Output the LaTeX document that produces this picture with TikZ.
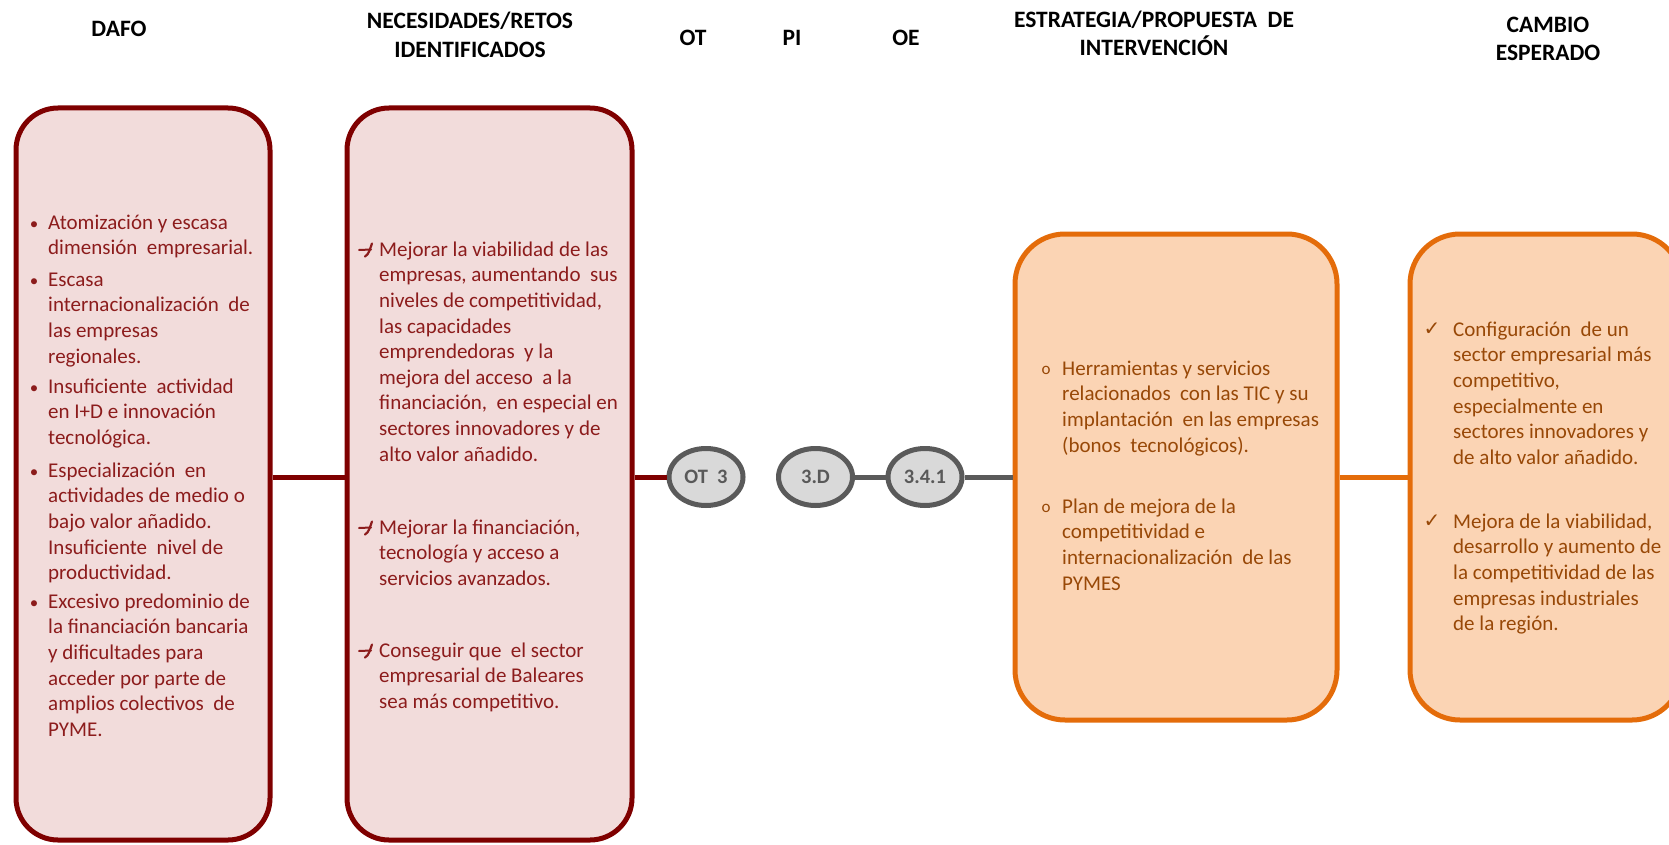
\documentclass[tikz,border=0pt]{standalone}
\usepackage{fontspec}
\setmainfont{Carlito}
\newfontfamily\dejavu{DejaVu Sans}
\usetikzlibrary{shapes.geometric}
\definecolor{dred}{HTML}{7F0000}
\definecolor{pinkfill}{HTML}{F2DCDB}
\definecolor{redtext}{HTML}{8C1C1C}
\definecolor{orline}{HTML}{E46C0A}
\definecolor{orfill}{HTML}{FBD4B4}
\definecolor{ortext}{HTML}{984807}
\definecolor{grline}{HTML}{5A5A5A}
\definecolor{grfill}{HTML}{D9D9D9}
\definecolor{grtext}{HTML}{595959}
\newcommand{\topstrutx}{\rule{0pt}{20pt}}
\begin{document}
\begin{tikzpicture}[x=1pt,y=-1pt,
  hdr/.style={font=\fontsize{23.5}{28.5}\selectfont\bfseries, align=center, inner sep=0},
  redbox/.style={draw=dred, fill=pinkfill, line width=5pt, rounded corners=42pt, minimum width=#1, minimum height=732pt, inner sep=0},
  orbox/.style={draw=orline, fill=orfill, line width=5pt, rounded corners=50pt, minimum width=#1, minimum height=486pt, inner sep=0},
  oval/.style={ellipse, draw=grline, fill=grfill, line width=5pt, minimum width=74pt, minimum height=57pt, inner sep=0, text=grtext, font=\fontsize{20.5}{24}\selectfont\bfseries},
  body/.style={font=\fontsize{21}{25.6}\selectfont, align=left, inner sep=0, anchor=north west},
  redtxt/.style={body, text=redtext},
  ortxt/.style={body, text=ortext},
  bulletmark/.style={inner sep=0, anchor=center},
  redbullet/.style={bulletmark, text=redtext, font=\fontsize{17}{20}\selectfont},
  orbullet/.style={bulletmark, text=ortext, font=\fontsize{17}{20}\selectfont},
  checkmk/.style={bulletmark, text=ortext, font=\dejavu\fontsize{20}{22}\selectfont},
  redline/.style={draw=dred, line width=5pt},
  grayline/.style={draw=grline, line width=5pt},
  orangeline/.style={draw=orline, line width=5pt},
  nsym/.pic={
    \draw[redtext, line width=2pt, line cap=round] (-8,0.5) -- (4,0);
    \draw[redtext, line width=2.2pt, line cap=round] (5,-6) .. controls (3,-1) and (2,5) .. (-2,7);
  }
]
\useasboundingbox (0,0) rectangle (1669,845);

% headers
\node[hdr] (hdafo) at (119,29) {DAFO};
\node[hdr] (hnec) at (470,35) {NECESIDADES/RETOS\\IDENTIFICADOS};
\node[hdr] (hot) at (693,38) {OT};
\node[hdr] (hpi) at (792,38) {PI};
\node[hdr] (hoe) at (906,38) {OE};
\node[hdr] (hest) at (1154,33.5) {ESTRATEGIA/PROPUESTA\ \ DE\\INTERVENCIÓN};
\node[hdr] (hcam) at (1548,39) {CAMBIO\\ESPERADO};

% boxes
\node[redbox=254pt] (dafo) at (143,474) {};
\node[redbox=285pt] (nec) at (489.5,474) {};
\node[orbox=322pt] (estr) at (1176,477) {};
\node[orbox=272pt] (camb) at (1546,477) {};

% ellipses
\node[oval] (ot) at (706,477) {OT\ \ 3};
\node[oval] (pi) at (815.5,477) {3.D};
\node[oval] (oe) at (925,477) {3.4.1};

% connectors
\draw[redline] (dafo.east |- ot.center) -- (nec.west |- ot.center);
\draw[redline] (nec.east |- ot.center) -- (ot.west);
\draw[grayline] (pi.east) -- (oe.west);
\draw[grayline] (oe.east) -- (estr.west |- oe.center);
\draw[orangeline] (estr.east |- oe.center) -- (camb.west |- oe.center);

% DAFO text
\node[redbullet] (b1) at (34,225.5) {•};
\node[redtxt] (d1) at (48,209) {\topstrutx Atomización y escasa\\dimensión\ \ empresarial.};
\node[redbullet] (b2) at (34,282.5) {•};
\node[redtxt] (d2) at (48,266) {\topstrutx Escasa\\internacionalización\ \ de\\las empresas\\regionales.};
\node[redbullet] (b3) at (34,389.5) {•};
\node[redtxt] (d3) at (48,373) {\topstrutx Insuficiente\ \ actividad\\en I+D e innovación\\tecnológica.};
\node[redbullet] (b4) at (34,473.5) {•};
\node[redtxt] (d4) at (48,457) {\topstrutx Especialización\ \ en\\actividades de medio o\\bajo valor añadido.\\Insuficiente\ \ nivel de\\productividad.};
\node[redbullet] (b5) at (34,604.5) {•};
\node[redtxt] (d5) at (48,588) {\topstrutx Excesivo predominio de\\la financiación bancaria\\y dificultades para\\acceder por parte de\\amplios colectivos\ \ de\\PYME.};

% NEC text
\pic at (367,249.5) {nsym};
\node[redtxt] (n1) at (379,236) {\topstrutx Mejorar la viabilidad de las\\empresas, aumentando\ \ sus\\niveles de competitividad,\\las capacidades\\emprendedoras\ \ y la\\mejora del acceso\ \ a la\\financiación,\ \ en especial en\\sectores innovadores y de\\alto valor añadido.};
\pic at (367,527.5) {nsym};
\node[redtxt] (n2) at (379,514) {\topstrutx Mejorar la financiación,\\tecnología y acceso a\\servicios avanzados.};
\pic at (367,650.5) {nsym};
\node[redtxt] (n3) at (379,637) {\topstrutx Conseguir que\ \ el sector\\empresarial de Baleares\\sea más competitivo.};

% Estrategia text
\node[orbullet] (o1) at (1046,370) {o};
\node[ortxt] (e1) at (1062,355) {\topstrutx Herramientas y servicios\\relacionados\ \ con las TIC y su\\implantación\ \ en las empresas\\(bonos\ \ tecnológicos).};
\node[orbullet] (o2) at (1046,508) {o};
\node[ortxt] (e2) at (1062,493) {\topstrutx Plan de mejora de la\\competitividad e\\internacionalización\ \ de las\\PYMES};

% Cambio text
\node[checkmk] (c1m) at (1432,329) {✓};
\node[ortxt] (c1) at (1453,316) {\topstrutx Configuración\ \ de un\\sector empresarial más\\competitivo,\\especialmente en\\sectores innovadores y\\de alto valor añadido.};
\node[checkmk] (c2m) at (1432,521) {✓};
\node[ortxt] (c2) at (1453,508) {\topstrutx Mejora de la viabilidad,\\desarrollo y aumento de\\la competitividad de las\\empresas industriales\\de la región.};
\end{tikzpicture}
\end{document}
